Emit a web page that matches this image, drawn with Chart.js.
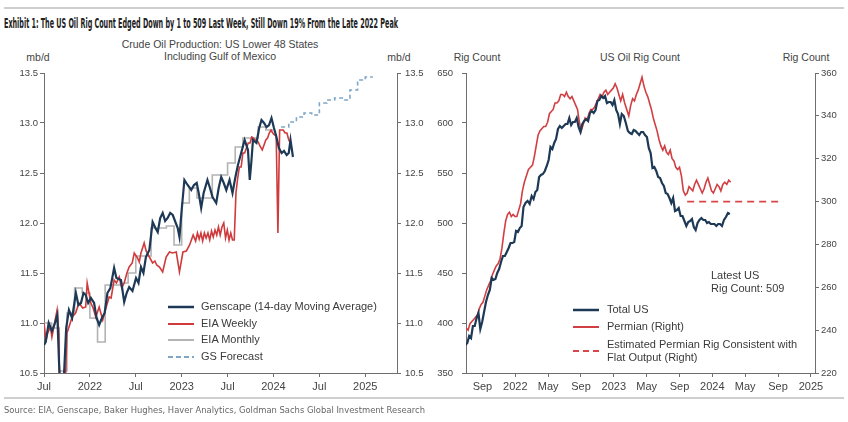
<!DOCTYPE html>
<html>
<head>
<meta charset="utf-8">
<script src="https://cdn.jsdelivr.net/npm/chart.js@4.4.1/dist/chart.umd.min.js"></script>
<style>
  body { margin: 0; background: #fff; width: 848px; height: 422px; overflow: hidden; position: relative;
         font-family: 'Liberation Sans', Arial, sans-serif; color: #333; }
  canvas { position: absolute; top: 0; }
  #c1 { left: 0; }
  #c2 { left: 424px; }
  .t { position: absolute; white-space: nowrap; font-size: 10.5px; color: #444; line-height: 12px; }
  .c { transform: translateX(-50%); text-align: center; }
  .rule { position: absolute; left: 4px; width: 840px; height: 2px; background: #cfcfcf; }
  .lg { position: absolute; white-space: nowrap; font-size: 11px; color: #3a3a3a; line-height: 13px; }
  .lg svg { position: absolute; }
</style>
</head>
<body>
<div class="rule" style="top:7px"></div>
<div id="title" class="t" style="left:4px;top:15px;font-family:'Liberation Sans Narrow','DejaVu Sans Condensed',sans-serif;font-weight:bold;font-size:14.5px;line-height:16px;color:#222;transform-origin:0 0">Exhibit 1: The US Oil Rig Count Edged Down by 1 to 509 Last Week, Still Down 19% From the Late 2022 Peak</div>

<div class="t c" style="left:220px;top:38px">Crude Oil Production: US Lower 48 States</div>
<div class="t c" style="left:220px;top:50px">Including Gulf of Mexico</div>
<div class="t c" style="left:38px;top:51px">mb/d</div>
<div class="t c" style="left:399px;top:51px">mb/d</div>
<div class="t c" style="left:477px;top:51px">Rig Count</div>
<div class="t c" style="left:640px;top:51px">US Oil Rig Count</div>
<div class="t c" style="left:806px;top:51px">Rig Count</div>

<canvas id="c1" width="424" height="422"></canvas>
<canvas id="c2" width="424" height="422"></canvas>

<div class="lg" style="left:168px;top:300px">
  <svg width="26" height="4" style="left:0;top:5px"><line x1="0" y1="2" x2="26" y2="2" stroke="#1d3956" stroke-width="2.5"/></svg>
  <span style="margin-left:33px">Genscape (14-day Moving Average)</span></div>
<div class="lg" style="left:168px;top:317px">
  <svg width="26" height="4" style="left:0;top:5px"><line x1="0" y1="2" x2="26" y2="2" stroke="#cf3a3c" stroke-width="2"/></svg>
  <span style="margin-left:33px">EIA Weekly</span></div>
<div class="lg" style="left:168px;top:333px">
  <svg width="26" height="4" style="left:0;top:5px"><line x1="0" y1="2" x2="26" y2="2" stroke="#b3b3b3" stroke-width="2"/></svg>
  <span style="margin-left:33px">EIA Monthly</span></div>
<div class="lg" style="left:168px;top:350px">
  <svg width="26" height="4" style="left:0;top:5px"><line x1="0" y1="2" x2="26" y2="2" stroke="#7fa6c6" stroke-width="2" stroke-dasharray="5,3"/></svg>
  <span style="margin-left:33px">GS Forecast</span></div>

<div class="lg" style="left:711px;top:269px">Latest US<br>Rig Count: 509</div>
<div class="lg" style="left:573px;top:303px">
  <svg width="26" height="4" style="left:0;top:5px"><line x1="0" y1="2" x2="26" y2="2" stroke="#1d3956" stroke-width="2.5"/></svg>
  <span style="margin-left:34px">Total US</span></div>
<div class="lg" style="left:573px;top:320px">
  <svg width="26" height="4" style="left:0;top:5px"><line x1="0" y1="2" x2="26" y2="2" stroke="#d13f42" stroke-width="2"/></svg>
  <span style="margin-left:34px">Permian (Right)</span></div>
<div class="lg" style="left:573px;top:338px">
  <svg width="26" height="4" style="left:0;top:11px"><line x1="0" y1="2" x2="26" y2="2" stroke="#d9474a" stroke-width="2" stroke-dasharray="6,4"/></svg>
  <div style="margin-left:34px">Estimated Permian Rig Consistent with<br>Flat Output (Right)</div></div>

<div class="rule" style="top:397px"></div>
<div id="source" class="t" style="left:4px;top:404px;font-family:'Liberation Sans Narrow','DejaVu Sans Condensed',sans-serif;font-size:9.5px;color:#666;transform-origin:0 0">Source: EIA, Genscape, Baker Hughes, Haver Analytics, Goldman Sachs Global Investment Research</div>

<script>
// ---------- left panel: crude production, mb/d ----------
const gensDates = ['2021-07-01','2021-07-08','2021-07-20','2021-08-02','2021-08-12','2021-08-24','2021-08-31','2021-09-07','2021-09-18','2021-09-28',
  '2021-10-09','2021-10-22','2021-11-06','2021-11-16','2021-11-26','2021-12-06','2021-12-15','2021-12-25','2022-01-05','2022-01-18',
  '2022-01-28','2022-02-07','2022-02-17','2022-02-27','2022-03-10','2022-03-22','2022-04-06','2022-04-15','2022-05-03','2022-05-16',
  '2022-05-26','2022-06-05','2022-06-18','2022-07-02','2022-07-12','2022-07-22','2022-08-01','2022-08-11','2022-08-25','2022-09-07',
  '2022-09-18','2022-09-27','2022-10-07','2022-10-17','2022-10-27','2022-11-06','2022-11-16','2022-11-26','2022-12-08','2022-12-16',
  '2022-12-23','2022-12-31','2023-01-12','2023-01-25','2023-02-08','2023-02-18','2023-02-28','2023-03-08','2023-03-18','2023-03-28',
  '2023-04-12','2023-04-22','2023-05-02','2023-05-17','2023-05-27','2023-06-06','2023-06-16','2023-06-26','2023-07-09','2023-07-21',
  '2023-08-01','2023-08-12','2023-08-25','2023-09-08','2023-09-21','2023-09-28','2023-10-04','2023-10-11','2023-10-25','2023-11-05',
  '2023-11-14','2023-11-24','2023-12-04','2023-12-14','2023-12-24','2024-01-03','2024-01-13','2024-01-23','2024-02-03','2024-02-12',
  '2024-02-22','2024-03-01','2024-03-08','2024-03-18'];
const gensValues = [10.78,10.81,11.0,10.92,10.98,11.08,10.6,10.3,10.4,10.95,
  11.13,11.05,11.3,11.18,11.2,11.3,11.28,11.2,11.25,11.2,
  11.05,10.98,11.05,11.1,11.3,11.35,11.55,11.45,11.43,11.21,
  11.3,11.36,11.32,11.45,11.4,11.56,11.5,11.66,11.73,12.01,
  11.95,11.91,12.05,12.1,12.02,12.05,12.1,12.08,12.0,11.95,
  11.86,12.1,12.43,12.38,12.33,12.38,12.4,12.3,12.15,12.3,
  12.43,12.35,12.26,12.2,12.35,12.46,12.4,12.33,12.43,12.3,
  12.45,12.58,12.7,12.83,12.73,12.43,12.6,12.83,12.8,12.95,
  13.03,13.0,12.96,12.98,13.05,12.95,12.86,12.75,12.7,12.72,
  12.68,12.7,12.83,12.66];

const weeklyDates = ['2021-07-01','2021-07-09','2021-07-16','2021-07-27','2021-08-02','2021-08-13','2021-08-23','2021-08-30','2021-09-03','2021-09-17',
  '2021-09-26','2021-10-01','2021-10-08','2021-10-22','2021-11-05','2021-11-18','2021-12-03','2021-12-15','2021-12-21','2022-01-05',
  '2022-01-14','2022-01-25','2022-02-07','2022-02-20','2022-03-04','2022-03-17','2022-03-25','2022-04-06','2022-04-15','2022-04-26',
  '2022-05-06','2022-05-16','2022-05-27','2022-06-05','2022-06-17','2022-06-25','2022-07-08','2022-07-15','2022-07-22','2022-08-04',
  '2022-08-12','2022-08-25','2022-09-07','2022-09-16','2022-09-23','2022-10-04','2022-10-17','2022-10-31','2022-11-13','2022-11-25',
  '2022-12-10','2022-12-23','2023-01-06','2023-01-20','2023-02-02','2023-02-15','2023-02-24','2023-03-03','2023-03-10','2023-03-17',
  '2023-03-24','2023-03-31','2023-04-07','2023-04-14','2023-04-21','2023-04-28','2023-05-05','2023-05-12','2023-05-19','2023-05-26',
  '2023-06-02','2023-06-09','2023-06-16','2023-06-23','2023-06-30','2023-07-07','2023-07-14','2023-07-21','2023-07-28','2023-08-04',
  '2023-08-11','2023-08-18','2023-08-25','2023-09-01','2023-09-08','2023-09-15','2023-09-22','2023-09-29','2023-10-06','2023-10-13',
  '2023-10-20','2023-10-27','2023-11-03','2023-11-10','2023-11-17','2023-11-24','2023-12-01','2023-12-08','2023-12-15','2023-12-22',
  '2023-12-29','2024-01-05','2024-01-12','2024-01-19','2024-01-26','2024-02-02','2024-02-09','2024-02-16','2024-02-23','2024-03-01',
  '2024-03-08'];
const weeklyValues = [11.0,10.83,10.9,10.96,10.86,11.0,11.13,10.9,9.9,10.1,
  10.5,10.9,10.95,11.06,11.1,11.2,11.15,11.16,11.4,11.2,
  11.15,11.06,11.16,11.03,11.15,11.26,11.25,11.43,11.4,11.46,
  11.35,11.4,11.5,11.56,11.6,11.7,11.65,11.61,11.7,11.8,
  11.72,11.66,11.6,11.62,11.58,11.56,11.51,11.66,11.71,11.7,
  11.71,11.51,11.71,11.72,11.78,11.88,11.82,11.9,11.84,11.9,
  11.82,11.9,11.85,11.9,11.83,11.92,11.86,11.93,11.88,11.96,
  11.88,11.96,12.0,11.85,11.93,11.83,11.9,11.83,11.83,12.3,
  12.45,12.56,12.56,12.7,12.7,12.75,12.8,12.8,12.86,12.85,
  12.83,12.83,12.8,12.76,12.73,12.78,12.83,12.85,12.9,12.93,
  12.9,12.88,12.88,11.9,12.93,12.93,12.93,12.9,12.9,12.83,
  12.8];

// monthly, each value held for its month
const monthlyDates = ['2021-07','2021-08','2021-09','2021-10','2021-11','2021-12','2022-01','2022-02','2022-03','2022-04',
  '2022-05','2022-06','2022-07','2022-08','2022-09','2022-10','2022-11','2022-12','2023-01','2023-02',
  '2023-03','2023-04','2023-05','2023-06','2023-07','2023-08','2023-09','2023-10','2023-11','2023-12'];
const monthlyValues = [11.0,10.95,10.52,11.1,11.35,11.3,11.05,10.81,11.38,11.38,
  11.4,11.5,11.67,11.67,11.95,11.95,11.97,11.78,12.2,12.35,
  12.25,12.25,12.48,12.48,12.6,12.76,12.85,12.85,12.96,12.93];

const fcstDates = ['2024-02','2024-03','2024-04','2024-05','2024-06','2024-07','2024-08','2024-09','2024-10','2024-11','2024-12','2025-01'];
const fcstValues = [12.96,13.01,13.06,13.1,13.08,13.2,13.23,13.25,13.23,13.33,13.43,13.46];

const prodTicks = ['Jul','2022','Jul','2023','Jul','2024','Jul','2025'];

// ---------- right panel: rig counts (weekly) ----------
const totalStart = '2021-06-22';
const totalUS = [380,378,380,387,385,397,397,405,410,394,401,411,421,428,433,445,443,444,450,454,
  461,467,467,471,475,480,480,481,492,491,495,497,516,520,522,519,527,524,531,533,
  546,548,549,552,557,563,576,574,580,584,594,597,595,597,599,599,605,598,601,601,
  605,596,591,599,602,604,602,610,612,610,613,622,623,627,625,627,620,621,621,618,
  623,613,609,599,609,607,600,592,590,589,593,592,590,588,591,591,588,586,575,570,
  555,556,552,546,545,540,537,530,529,525,520,525,512,513,515,507,507,502,497,501,
  502,504,496,493,500,503,505,503,503,500,501,499,499,499,497,499,499,497,503,506,
  510,509];
const permStart = '2021-07-02';
const permian = [241,240,243,244,245,246,247,250,252,253,256,259,261,263,266,268,270,271,273,278,
  285,291,294,295,293,294,293,293,296,299,305,309,312,315,316,317,321,326,331,333,
  334,335,335,337,341,342,343,346,346,347,350,350,349,351,349,348,349,347,345,343,
  337,333,336,339,338,341,343,343,344,346,348,350,349,351,352,350,351,352,353,355,
  353,350,347,350,346,343,340,345,348,347,350,352,355,358,354,351,349,346,343,339,
  336,333,329,326,324,326,323,322,324,320,319,316,315,316,312,305,303,304,307,306,
  305,308,310,308,306,304,306,309,311,308,305,304,306,308,307,305,308,309,308,310,
  309];
const flatDates = ['2023-09-29','2024-09-20'];
const flatValues = [300,300];

const rigTicks = ['Sep','2022','May','Sep','2023','May','Sep','2024','May','Sep','2025'];

// months since Jul 2021, fractional
function mIdx(s) {
  const p = s.split('-').map(Number);
  const d = p[2] || 1;
  const dim = new Date(Date.UTC(p[0], p[1], 0)).getUTCDate();
  return (p[0] - 2021) * 12 + (p[1] - 7) + (d - 1) / dim;
}
function weekly(start, vals) {
  const t0 = Date.parse(start + 'T00:00:00Z');
  return vals.map((v, i) => {
    const d = new Date(t0 + i * 7 * 864e5);
    return { x: mIdx(d.toISOString().slice(0, 10)), y: v };
  });
}
function pairs(dates, vals) { return dates.map((d, i) => ({ x: mIdx(d), y: vals[i] })); }
function held(dates, vals) {
  const p = pairs(dates, vals);
  p.push({ x: p[p.length - 1].x + 1, y: vals[vals.length - 1] });
  return p;
}

const AX = '#6e6e6e';
function yAxis(pos, min, max, step, width, pad, fmt) {
  return {
    position: pos, min: min, max: max,
    ticks: { stepSize: step, color: '#444', font: { size: 9.5, family: 'Liberation Sans' }, padding: pad, callback: fmt },
    grid: { drawOnChartArea: false, drawTicks: true, tickLength: 4, color: AX },
    border: { display: true, color: AX, width: 1 },
    afterFit(s) { s.width = width; }
  };
}
function xAxis(min, max, first, labels) {
  return {
    type: 'linear', min: min, max: max,
    afterBuildTicks(s) { s.ticks = labels.map((l, i) => ({ value: first + i * (labels === prodTicks ? 6 : 4) })); },
    ticks: { autoSkip: false, maxRotation: 0, color: '#444', font: { size: 11, family: 'Liberation Sans' }, padding: 3,
             callback: (v, i) => labels[i] },
    grid: { drawOnChartArea: false, drawTicks: true, tickLength: 4, color: AX },
    border: { display: true, color: AX, width: 1 },
    afterFit(s) { s.height = 49; }
  };
}
const base = {
  responsive: false, animation: false,
  layout: { padding: { top: 73, left: 0, right: 0, bottom: 0 } },
  plugins: { legend: { display: false }, tooltip: { enabled: false } },
  elements: { point: { radius: 0 }, line: { tension: 0 } }
};

new Chart(document.getElementById('c1'), {
  type: 'line',
  data: {
    datasets: [
      { label: 'Genscape (14-day Moving Average)', data: pairs(gensDates, gensValues), borderColor: '#1d3956', borderWidth: 2.2 },
      { label: 'EIA Weekly', data: pairs(weeklyDates, weeklyValues), borderColor: '#cf3a3c', borderWidth: 1.6 },
      { label: 'EIA Monthly', data: held(monthlyDates, monthlyValues), borderColor: '#b3b3b3', borderWidth: 1.6, stepped: true },
      { label: 'GS Forecast', data: held(fcstDates, fcstValues), borderColor: '#7fa6c6', borderWidth: 1.6, borderDash: [4, 3], stepped: true }
    ]
  },
  options: Object.assign({}, base, {
    scales: {
      x: xAxis(0, 46.15, 0, prodTicks),
      y: yAxis('left', 10.5, 13.5, 0.5, 44, 2, v => v.toFixed(1)),
      y2: yAxis('right', 10.5, 13.5, 0.5, 27, 4, v => v.toFixed(1))
    }
  })
});

new Chart(document.getElementById('c2'), {
  type: 'line',
  data: {
    datasets: [
      { label: 'Total US', data: weekly(totalStart, totalUS), borderColor: '#1d3956', borderWidth: 2.2, yAxisID: 'y' },
      { label: 'Permian (Right)', data: weekly(permStart, permian), borderColor: '#d13f42', borderWidth: 1.6, yAxisID: 'y2' },
      { label: 'Estimated Permian Rig Consistent with Flat Output (Right)', data: pairs(flatDates, flatValues),
        borderColor: '#d9474a', borderWidth: 1.8, borderDash: [7, 5], yAxisID: 'y2' }
    ]
  },
  options: Object.assign({}, base, {
    scales: {
      x: xAxis(0, 42.5, 2, rigTicks),
      y: yAxis('left', 350, 650, 50, 42, 9, v => v),
      y2: yAxis('right', 220, 360, 20, 33, 2, v => v)
    }
  })
});

// squeeze the condensed header/source lines to the width they take in the exhibit
function fit(id, w) {
  const el = document.getElementById(id);
  const r = el.getBoundingClientRect().width;
  if (r > 0) el.style.transform = 'scaleX(' + (w / r) + ')';
}
fit('title', 394);
fit('source', 421);
</script>
</body>
</html>
